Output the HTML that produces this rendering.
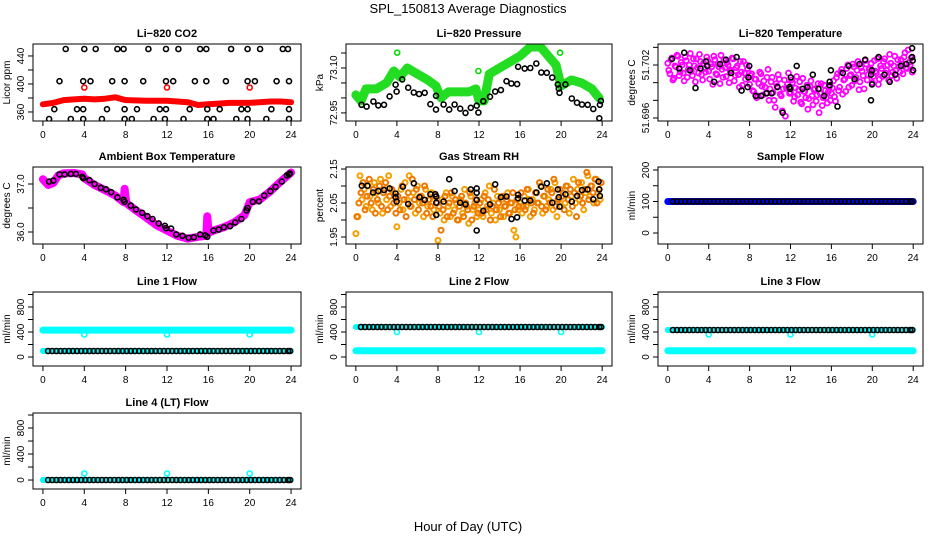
<!DOCTYPE html>
<html><head><meta charset="utf-8">
<style>
html,body{margin:0;padding:0;background:#fff;}
svg{display:block;font-family:"Liberation Sans",Arial,sans-serif;}
</style></head>
<body>
<svg id="chart" width="936" height="540" viewBox="0 0 936 540" xmlns="http://www.w3.org/2000/svg">
<rect width="936" height="540" fill="#fff"/>
<text x="468" y="13" font-size="13" text-anchor="middle">SPL_150813  Average Diagnostics</text>
<text x="468" y="531" font-size="13" text-anchor="middle">Hour of Day (UTC)</text>
</svg>
<script>
// ---------- DATA ----------
const xTicks = [0,4,8,12,16,20,24];
// CO2
const co2BandT = [0,1,2,3,4,5,6,7,8,10,12,13,14,15,16,17,18,20,22,23,24];
const co2BandV = [371,373,377,378,379,378,379,381,377,376,376,375,374,370,371,372,373,373,375,375,374];
const co2HiT = [2.2,4.0,5.1,7.2,7.8,10.2,11.9,13.1,15.2,15.8,18.2,19.8,21.0,23.2,23.7];
const co2MidT = [1.6,3.9,4.6,6.7,7.9,9.7,11.9,12.6,14.7,15.8,17.7,19.8,20.5,22.6,23.8];
const co2LowT = [1.1,3.3,3.9,6.2,7.9,9.1,11.3,11.9,14.2,15.9,17.1,19.2,19.8,22.1,23.8];
const co2BotT = [0.6,2.7,3.9,5.7,7.9,8.6,10.7,11.8,13.6,15.9,16.5,18.7,19.8,21.6,23.8];
const co2Levels = [450,404,364,350];
const co2RedT = [4,12,20];
const co2RedV = [395,395,395];
// Pressure
const presBandT = [0,0.5,1,2,3,3.7,4.3,5,6,7,7.8,8.3,9,10,11,11.7,12,12.5,13,14,15,16,17,18,19,19.5,20,21,22,23,23.7];
const presBandV = [73.01,72.99,73.03,73.03,73.05,73.09,73.07,73.10,73.08,73.06,73.04,73.00,73.02,73.02,73.02,73.03,72.99,72.99,73.08,73.10,73.12,73.14,73.17,73.17,73.13,73.11,73.04,73.06,73.05,73.03,73.00];
const presOutT = [4.03,11.94,19.9];
const presOutV = [73.151,73.09,73.151];
const presBlackT = [0.55,1.05,1.71,2.19,2.74,3.29,3.87,3.97,4.52,5.10,5.65,6.16,6.71,7.26,7.81,7.81,8.55,9.10,9.62,10.17,10.68,11.20,11.78,11.94,12.42,13.07,13.58,14.13,14.68,15.16,15.71,15.81,16.45,17.0,17.58,18.07,18.61,19.13,19.68,19.78,19.84,20.42,21.04,21.55,22.04,22.59,23.14,23.72,23.78,23.88];
const presBlackV = [72.977,72.971,72.988,72.975,72.977,73.005,73.044,73.021,73.062,73.034,73.018,73.013,73.017,72.979,72.961,73.007,72.978,72.961,72.978,72.964,72.950,72.967,72.974,72.951,72.989,73.004,73.021,73.026,73.056,73.048,73.046,73.104,73.098,73.100,73.115,73.085,73.084,73.068,73.045,73.031,73.017,73.045,72.998,72.984,72.978,72.977,72.963,72.932,72.977,72.990];
// Li-820 temperature
const tempBlackT = [0.42,1.11,1.6,2.16,2.71,3.2,3.73,3.85,4.54,5.1,5.69,6.18,6.73,7.22,7.81,7.88,7.97,8.6,9.12,9.67,10.16,10.72,11.24,11.9,11.96,12.03,12.61,13.17,13.66,14.18,14.74,15.29,15.82,15.82,15.95,16.6,17.12,17.68,18.27,18.76,19.31,19.87,19.97,19.97,19.87,20.62,21.18,21.7,22.25,22.8,23.33,23.89,23.89,23.95,23.99];
const tempBlackV = [51.7027,51.7016,51.7034,51.7014,51.6994,51.7016,51.7024,51.7019,51.7001,51.7021,51.7026,51.7011,51.7029,51.6991,51.6995,51.7006,51.7019,51.6985,51.6985,51.6988,51.6988,51.6995,51.6966,51.6995,51.6993,51.7006,51.7019,51.6993,51.6995,51.7009,51.6993,51.6985,51.6997,51.7001,51.7014,51.6973,51.7011,51.7019,51.7004,51.7021,51.7026,51.7009,51.7014,51.6998,51.6980,51.7029,51.7009,51.7001,51.7009,51.7019,51.7021,51.7039,51.7029,51.7025,51.7014];
const tempCloudA = [51.7022,51.7010,51.7028,51.7005,51.7018,51.7030,51.7012,51.7020,51.7002,51.7025,51.7015,51.7033,51.7008,51.7019,51.7027,51.7011,51.7024,51.7003,51.7016,51.7029,51.7013,51.7021,51.6998,51.7026,51.7009,51.7018,51.7031,51.7006,51.7017,51.7023,51.7000,51.7014,51.7027,51.7008,51.7019,51.6995,51.7012,51.7024,51.7004,51.7016,
51.6998,51.7010,51.6990,51.7004,51.6985,51.7012,51.6996,51.7002,51.6988,51.7015,51.6993,51.7006,51.6980,51.6999,51.7009,51.6987,51.6968,51.7003,51.6994,51.7011,51.6989,51.7000,51.6984,51.7007,51.6992,51.6978,51.7005,51.6990,51.6997,51.6982,51.7002,51.6975,51.6993,51.6986,51.6966,51.6999,51.6983,51.6991,51.6977,51.6995,
51.6988,51.7002,51.6979,51.7010,51.6995,51.7015,51.7003,51.6990,51.7020,51.7008,51.6997,51.7018,51.7006,51.7024,51.7001,51.7013,51.6993,51.7021,51.7009,51.7016,51.7000,51.7025,51.7011,51.6998,51.7019,51.7007,51.7027,51.7014,51.7003,51.7022,51.7012,51.7030,51.7005,51.7018,51.7026,51.7010,51.7034,51.7016,51.7023,51.7028];
const tempCloudB = [51.7014,51.7026,51.7003,51.7019,51.7031,51.7008,51.7023,51.7011,51.7029,51.7006,51.7020,51.7013,51.7027,51.7001,51.7017,51.7032,51.7009,51.7022,51.7012,51.7025,51.7004,51.7018,51.7030,51.7010,51.7021,51.6999,51.7015,51.7026,51.7007,51.7020,51.7013,51.7028,51.7002,51.7017,51.7009,51.7024,51.6997,51.7011,51.7020,51.7006,
51.7008,51.6991,51.7004,51.6983,51.6999,51.7010,51.6986,51.6995,51.7006,51.6980,51.7001,51.6989,51.6972,51.6996,51.7004,51.6985,51.6993,51.6962,51.6998,51.6988,51.7003,51.6979,51.6994,51.6986,51.7001,51.6976,51.6990,51.6983,51.6970,51.6996,51.6985,51.6992,51.6979,51.6999,51.6988,51.6974,51.6997,51.6983,51.6990,51.6980,
51.6994,51.6984,51.7006,51.6991,51.7012,51.6987,51.7004,51.7016,51.6995,51.7009,51.7021,51.7002,51.7014,51.6992,51.7017,51.7008,51.7025,51.7003,51.7015,51.7022,51.7007,51.7013,51.7027,51.7004,51.7016,51.7024,51.7011,51.7020,51.7032,51.7008,51.7019,51.7014,51.7026,51.7012,51.7021,51.7029,51.7017,51.7037,51.7020,51.7012];
// Ambient box temperature
const ambBandT = [0,0.5,1,1.5,2,3,3.8,4,5,6,7,7.8,7.9,8.05,8.2,9,10,11,12,13,14,15,15.8,15.9,16.0,16.2,16.5,17.5,18.5,19.5,20,21,22,23,24];
const ambBandV = [37.1,36.98,37.02,37.18,37.22,37.23,37.2,37.12,36.98,36.87,36.76,36.62,36.9,36.62,36.58,36.45,36.30,36.14,36.03,35.92,35.86,35.9,35.92,36.33,36.05,36.0,36.03,36.1,36.2,36.35,36.62,36.68,36.85,37.05,37.24];
const ambBlackT = [0.6,1.0,1.6,2.1,2.7,3.2,3.8,3.9,4.5,5.0,5.6,6.1,6.6,7.2,7.8,7.9,8.5,9.0,9.6,10.1,10.6,11.2,11.8,11.9,12.4,12.9,13.5,14.1,14.6,15.2,15.7,15.9,16.5,17.0,17.5,18.1,18.6,19.2,19.7,19.8,20.3,20.9,21.4,22.0,22.5,23.1,23.6,23.8,23.9];
const ambBlackV = [37.05,37.07,37.20,37.20,37.21,37.21,37.15,37.12,37.08,37.0,36.92,36.89,36.83,36.72,36.67,36.63,36.55,36.47,36.40,36.33,36.27,36.18,36.13,36.08,36.07,35.95,35.92,35.88,35.89,35.95,35.93,35.90,36.03,36.05,36.10,36.12,36.20,36.27,36.45,36.50,36.63,36.64,36.76,36.85,36.94,37.05,37.18,37.20,37.22];
// Gas stream RH
const rhBlackT = [0.58,1.13,1.68,2.19,2.74,3.29,3.87,3.87,3.97,4.58,5.1,5.65,6.2,6.71,7.26,7.74,7.84,7.84,7.84,8.55,9.1,9.62,10.16,10.68,11.2,11.78,11.78,11.78,11.78,12.42,13.07,13.58,14.13,14.68,15.17,15.71,15.81,15.81,16.46,17.0,17.59,18.07,18.62,19.14,19.68,19.78,19.85,20.43,21.04,21.56,22.04,22.58,23.14,23.65,23.72,23.78];
const rhBlackV = [2.101,2.101,2.081,2.085,2.088,2.093,2.078,2.067,2.054,2.098,2.047,2.108,2.067,2.059,2.076,2.076,2.069,2.051,2.015,2.054,2.12,2.085,2.051,2.046,2.09,2.093,2.08,2.059,1.969,2.027,2.046,2.105,2.067,2.069,2.003,2.008,2.074,2.064,2.057,2.057,2.081,2.098,2.108,2.051,2.09,2.067,2.039,2.076,2.054,2.071,2.088,2.09,2.061,2.113,2.09,2.071];
const rhCloudA = [1.96,2.01,2.13,2.06,2.09,2.04,2.10,2.07,2.03,2.11,2.08,2.05,2.12,2.02,2.09,2.06,2.13,2.04,2.08,2.07,
1.98,2.05,2.09,2.03,2.11,2.06,2.13,2.04,2.08,2.02,2.10,2.05,2.07,2.01,2.09,2.04,2.06,2.08,2.03,2.07,
1.94,2.02,2.06,2.00,2.08,2.04,2.01,2.07,2.03,2.05,2.00,2.06,2.02,2.09,2.04,1.99,2.07,2.03,2.05,2.01,
2.03,2.06,2.01,2.08,2.04,2.10,2.02,2.05,2.00,2.07,2.03,2.06,2.01,2.04,2.08,2.02,2.05,1.97,1.95,2.03,
2.05,2.02,2.07,2.04,2.09,2.01,2.06,2.03,2.08,2.05,2.10,2.02,2.07,2.04,2.06,2.09,2.03,2.11,2.01,2.06,
2.04,2.08,2.05,2.10,2.02,2.07,2.12,2.05,2.09,2.06,2.11,2.03,2.08,2.13,2.07,2.10,2.05,2.12,2.08,2.06];
const rhCloudB = [2.01,2.05,2.08,2.11,2.03,2.07,2.12,2.05,2.09,2.02,2.06,2.10,2.04,2.08,2.11,2.03,2.07,2.09,2.05,2.02,
2.07,2.03,2.10,2.06,2.01,2.08,2.04,2.12,2.06,2.09,2.03,2.07,2.05,2.10,2.02,2.06,2.04,2.01,2.07,2.05,
2.04,1.97,2.03,2.07,2.01,2.05,2.08,2.02,2.06,2.00,2.04,2.07,2.01,2.05,2.03,2.08,2.00,2.04,2.06,2.02,
2.05,2.02,2.07,2.03,2.06,2.00,2.04,2.09,2.03,2.05,2.01,2.07,2.04,2.06,2.02,2.05,2.08,2.03,2.06,2.04,
2.08,2.04,2.03,2.09,2.06,2.05,2.02,2.08,2.05,2.11,2.04,2.07,2.03,2.09,2.05,2.08,2.12,2.04,2.06,2.09,
2.07,2.03,2.10,2.06,2.09,2.04,2.08,2.01,2.11,2.07,2.05,2.09,2.14,2.06,2.10,2.08,2.12,2.05,2.09,2.11];
// Flows
const flowT = [0.5,0.9,1.3,1.7,2.1,2.5,2.9,3.3,3.7,4.1,4.5,4.9,5.3,5.7,6.1,6.5,6.9,7.3,7.7,8.1,8.5,8.9,9.3,9.7,10.1,10.5,10.9,11.3,11.7,12.1,12.5,12.9,13.3,13.7,14.1,14.5,14.9,15.3,15.7,16.1,16.5,16.9,17.3,17.7,18.1,18.5,18.9,19.3,19.7,20.1,20.5,20.9,21.3,21.7,22.1,22.5,22.9,23.3,23.7,23.9];
const bandT = [0,24];
const sampleLevel = [100,100];
const line1Cyan = [430,430];
const line1Black = 96;
const line2Black = 480;
const line2Cyan = [100,100];
const line3Black = 432;
const line3Cyan = [100,100];
const line4Black = 0;
const line4Cyan = [0,0];
const dipT = [4,12,20];
const line1Dip = [360,360,360];
const line2Dip = [400,400,400];
const line3Dip = [360,360,360];
const line4Dip = [100,100,100];

// ---------- DRAWING ----------
const NS = "http://www.w3.org/2000/svg";
const svg = document.getElementById('chart');
function mk(tag, attrs, parent){
  const e = document.createElementNS(NS, tag);
  for (const k in attrs) e.setAttribute(k, attrs[k]);
  (parent||svg).appendChild(e);
  return e;
}
function panel(name, title, ylab, box, ydom, yticks, ylabels){
  const g = mk('g', {});
  
  
  const [L,T,R,B] = box;
  const sx = t => L + (R-L)*(t+0.96)/25.92;
  const sy = v => B - (B-T)*(v-ydom[0])/(ydom[1]-ydom[0]);
  const tt = mk('text', {x:(L+R)/2, y:T-7, 'font-size':11, 'font-weight':'bold','text-anchor':'middle'}, g);
  tt.textContent = title;
  
  
  const yl = mk('text', {x:0,y:0,'font-size':10,'text-anchor':'middle',transform:`translate(${L-23},${(T+B)/2}) rotate(-90)`}, g);
  yl.textContent = ylab;
  
  
  const ya = mk('g',{stroke:'#000','stroke-width':1}, g);
  
  
  yticks.forEach(v=>{
    const y = sy(v);
    mk('line',{x1:L-5,x2:L,y1:y,y2:y},ya);
  });
  mk('line',{x1:L,x2:L,y1:sy(yticks[0]),y2:sy(yticks[yticks.length-1])},ya);
  ylabels.forEach(v=>{
    const t = mk('text',{x:0,y:0,'font-size':10,'text-anchor':'middle',stroke:'none',transform:`translate(${L-9},${sy(v)}) rotate(-90)`},ya);
    t.textContent = String(v);
    
    
  });
  const xa = mk('g',{stroke:'#000','stroke-width':1}, g);
  
  
  mk('line',{x1:sx(xTicks[0]),x2:sx(xTicks[xTicks.length-1]),y1:B,y2:B},xa);
  xTicks.forEach(v=>{
    mk('line',{x1:sx(v),x2:sx(v),y1:B,y2:B+5},xa);
    const t = mk('text',{x:sx(v),y:B+17,'font-size':10,'text-anchor':'middle',stroke:'none'},xa);
    t.textContent = String(v);
    
    
  });
  const plot = mk('g',{}, g);
  
  
  const clip = 'clip-'+name;
  const cp = mk('clipPath',{id:clip}, g);
  mk('rect',{x:L,y:T,width:R-L,height:B-T},cp);
  plot.setAttribute('clip-path', `url(#${clip})`);
  const frame = mk('rect',{x:L,y:T,width:R-L,height:B-T,fill:'none',stroke:'#000','stroke-width':1}, g);
  
  
  return {sx, sy, plot};
}
function band(p, ts, vs, color, w, nm){
  const pts = ts.map((t,i)=>p.sx(t).toFixed(1)+','+p.sy(vs[i]).toFixed(1)).join(' ');
  const pl = mk('polyline',{points:pts,fill:'none',stroke:color,'stroke-width':w,'stroke-linejoin':'round','stroke-linecap':'round'}, p.plot);
  
  
}
function dots(p, ts, vs, color, nm, r, sw){
  const g = mk('g',{fill:'none',stroke:color,'stroke-width':sw||1.6}, p.plot);
  
  
  ts.forEach((t,i)=>{
    const v = Array.isArray(vs) ? vs[i] : vs;
    const c = mk('circle',{cx:p.sx(t).toFixed(1),cy:p.sy(v).toFixed(1),r:r||2.5},g);
    
    
  });
}
const gridT = n => tempCloudA.map((_,i)=>i*0.2+n);

const C1=[33,301], C2=[346,612], C3=[658,923];
const R1=[44,121], R2=[167,244], R3=[292,366], R4=[413,489];
const bx = (c,r)=>[c[0],r[0],c[1],r[1]];

let p = panel('co2-panel','Li\u2212820 CO2','Licor ppm',bx(C1,R1),[347.1,457.1],[360,380,400,420,440],[360,400,440]);
band(p, co2BandT, co2BandV, '#ff0000', 6, 'co2-series');
dots(p, co2RedT, co2RedV, '#ff0000', 'co2-red-points');
dots(p, co2HiT, co2Levels[0], '#000', 'co2-avg-high');
dots(p, co2MidT, co2Levels[1], '#000', 'co2-avg-mid');
dots(p, co2LowT, co2Levels[2], '#000', 'co2-avg-low');
dots(p, co2BotT, co2Levels[3], '#000', 'co2-avg-bottom');

p = panel('pressure-panel','Li\u2212820 Pressure','kPa',bx(C2,R1),[72.923,73.18],[72.95,73.00,73.05,73.10,73.15],['72.95','73.10']);
band(p, presBandT, presBandV, '#22dd22', 9, 'pressure-series');
dots(p, presOutT, presOutV, '#00dd00', 'pressure-outliers');
dots(p, presBlackT, presBlackV, '#000', 'pressure-avg');

p = panel('li820-temp-panel','Li\u2212820 Temperature','degrees C',bx(C3,R1),[51.69566,51.70438],[51.696,51.698,51.700,51.702,51.704],['51.696','51.702']);
dots(p, gridT(0), tempCloudA, '#ff00ff', 'temp-cloud-a', 2.5, 1.8);
dots(p, gridT(0.1), tempCloudB, '#ff00ff', 'temp-cloud-b', 2.5, 1.8);
dots(p, tempBlackT, tempBlackV, '#000', 'temp-avg');

p = panel('ambient-temp-panel','Ambient Box Temperature','degrees C',bx(C1,R2),[35.75,37.354],[36.0,36.5,37.0],['36.0','37.0']);
band(p, ambBandT, ambBandV, '#ff00ff', 8, 'ambient-series');
dots(p, ambBlackT, ambBlackV, '#000', 'ambient-avg');

p = panel('rh-panel','Gas Stream RH','percent',bx(C2,R2),[1.9294,2.1559],[1.95,2.00,2.05,2.10,2.15],['1.95','2.05','2.15']);
dots(p, gridT(0), rhCloudA, '#f5a000', 'rh-cloud-a', 2.5, 2);
dots(p, gridT(0.1), rhCloudB, '#ee7700', 'rh-cloud-b', 2.5, 2);
dots(p, rhBlackT, rhBlackV, '#000', 'rh-avg');

p = panel('sample-flow-panel','Sample Flow','ml/min',bx(C3,R2),[-34.9,209.5],[0,50,100,150,200],[0,100,200]);
band(p, bandT, sampleLevel, '#0000ff', 7, 'sample-flow-series');
dots(p, flowT, 100, '#000', 'sample-flow-avg');

const fy3=[-144,1040], fy4=[-138,1031], fticks=[0,200,400,600,800,1000], flab=[0,400,800];
p = panel('line1-flow-panel','Line 1 Flow','ml/min',bx(C1,R3),fy3,fticks,flab);
band(p, bandT, line1Cyan, '#00ffff', 7, 'line1-series');
dots(p, dipT, line1Dip, '#00ffff', 'line1-dips');
band(p, bandT, [line1Black,line1Black], '#00ffff', 6, 'line1-low-band');
dots(p, flowT, line1Black, '#000', 'line1-avg');
p = panel('line2-flow-panel','Line 2 Flow','ml/min',bx(C2,R3),fy3,fticks,flab);
band(p, bandT, line2Cyan, '#00ffff', 7, 'line2-series');
band(p, bandT, [line2Black,line2Black], '#00ffff', 6, 'line2-high-band');
dots(p, dipT, line2Dip, '#00ffff', 'line2-dips');
dots(p, flowT, line2Black, '#000', 'line2-avg');
p = panel('line3-flow-panel','Line 3 Flow','ml/min',bx(C3,R3),fy3,fticks,flab);
band(p, bandT, line3Cyan, '#00ffff', 7, 'line3-series');
band(p, bandT, [line3Black,line3Black], '#00ffff', 6, 'line3-high-band');
dots(p, dipT, line3Dip, '#00ffff', 'line3-dips');
dots(p, flowT, line3Black, '#000', 'line3-avg');
p = panel('line4-flow-panel','Line 4 (LT) Flow','ml/min',bx(C1,R4),fy4,fticks,flab);
band(p, bandT, line4Cyan, '#00ffff', 6, 'line4-series');
dots(p, dipT, line4Dip, '#00ffff', 'line4-dips');
dots(p, flowT, line4Black, '#000', 'line4-avg');
</script>
</body></html>
